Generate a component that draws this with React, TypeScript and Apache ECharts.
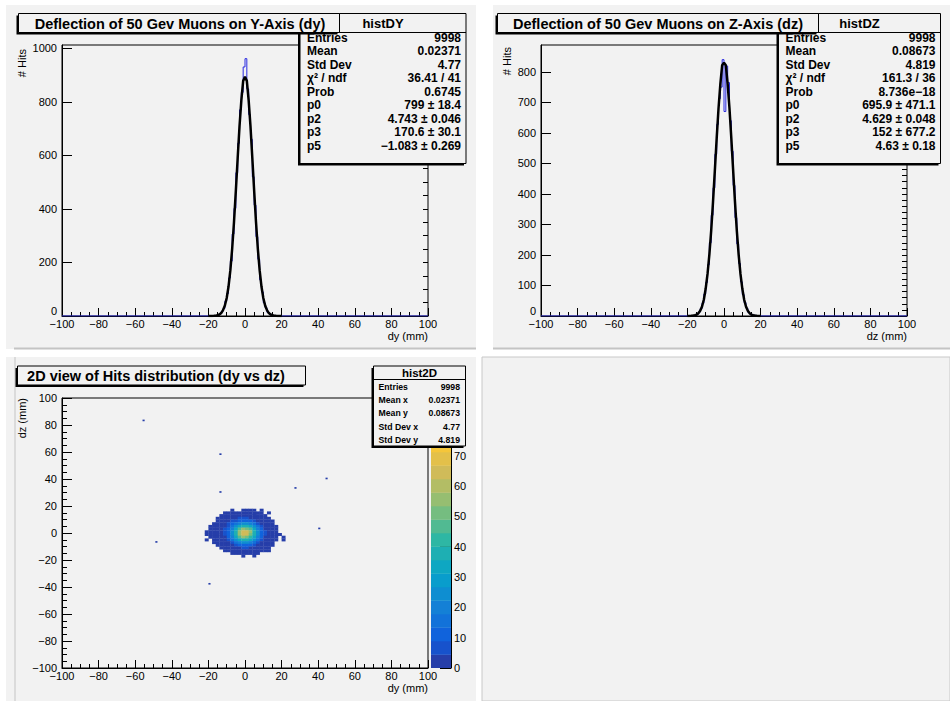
import React, { useEffect, useRef } from "react";
import * as echarts from "echarts";

// ---------------- data ----------------
const xRange = [-100, 100];
const binWidth = 1;

// 1D histograms: counts per 1 mm bin, first bin starts at firstEdge
const dyFirstEdge = -20;
const dyCounts = [
  0, 0, 1, 1, 2, 5, 8, 17, 28, 55, 84, 142, 205, 306, 402, 535, 645, 770, 835, 930,
  961, 848, 752, 660, 520, 414, 296, 212, 135, 90, 49, 31, 14, 9, 3, 2, 1, 0, 1, 0,
];
const dzFirstEdge = -20;
const dzCounts = [
  0, 0, 1, 1, 3, 6, 13, 24, 42, 72, 110, 168, 240, 330, 420, 530, 628, 712, 750, 840,
  670, 819, 765, 640, 540, 428, 322, 236, 172, 112, 70, 44, 26, 12, 7, 3, 2, 1, 0, 0,
];

// fit curves sampled at integer x from fitFirstX
const fitFirstX = -20;
const dyFit = [
  0, 0, 0.2, 0.5, 1.2, 2.7, 5.6, 11, 22, 39, 67, 110, 171, 252, 352, 468, 590, 708, 805, 878,
  893, 878, 805, 708, 590, 468, 352, 252, 171, 110, 67, 39, 22, 11, 5.6, 2.7, 1.2, 0.5, 0.2, 0, 0,
];
const dzFit = [
  0.1, 0.3, 0.6, 1.4, 2.8, 4.5, 9, 17, 31, 54, 90, 138, 201, 280, 374, 477, 582, 680, 760, 822,
  830, 822, 760, 680, 582, 477, 374, 280, 201, 138, 90, 54, 31, 17, 9, 4.5, 2.8, 1.4, 0.6, 0.3, 0.1,
];
const dyYMax = 1012;
const dzYMax = 888;

// 2D histogram (average hits per 1x1 mm bin) on a 2 mm grid, top row first
const h2Cell = 2;
const h2FirstX = -22;
const h2TopRowLow = 18;
const h2Rows = [
  [0, 0, 0, 0, 0, 0, 0, 0, 0, 0, 0, 0, 0, 0, 0, 0, 0, 0, 0, 0, 0, 0],
  [0, 0, 0, 0, 0, 0, 0, 0.3, 0, 0, 0.3, 0.3, 0.3, 0.3, 0, 0.3, 0, 0, 0, 0, 0, 0],
  [0, 0, 0, 0, 0, 0.3, 0.3, 0.5, 0.5, 0.8, 1, 0.8, 0.8, 0.5, 0.3, 0.3, 0, 0.3, 0, 0, 0, 0],
  [0, 0, 0, 0, 0.3, 0.3, 0.5, 0.8, 1.3, 1.6, 2, 1.8, 1.5, 1.1, 0.7, 0.3, 0.3, 0, 0, 0, 0, 0],
  [0, 0, 0, 0.3, 0.3, 0.5, 1, 2, 3.2, 4.5, 5.3, 5.2, 4.4, 3, 1.8, 1, 0.4, 0.3, 0, 0, 0, 0],
  [0, 0, 0, 0.3, 0.4, 1, 2.3, 4.5, 7.5, 10.5, 12.5, 12.6, 10.3, 7.2, 4.3, 2.2, 0.9, 0.3, 0.3, 0, 0, 0],
  [0, 0, 0.3, 0.3, 0.7, 1.8, 4.5, 9, 15, 20, 23.5, 24, 20, 14.5, 8.6, 4.4, 1.8, 0.6, 0.3, 0, 0, 0],
  [0, 0.3, 0.3, 0.4, 1.1, 3.2, 7.5, 15, 24, 32, 38, 38.5, 32, 23.5, 14.5, 7.4, 3, 1, 0.3, 0.3, 0, 0],
  [0, 0.3, 0.3, 0.5, 1.5, 4.5, 10.5, 20, 32, 45, 54, 53, 44.5, 32, 20, 10.4, 4.4, 1.5, 0.5, 0.3, 0, 0],
  [0.3, 0.3, 0.3, 0.6, 1.9, 5.3, 12.6, 24, 38.5, 54, 66, 65, 54, 38, 23.5, 12.5, 5.2, 1.8, 0.5, 0.3, 0, 0],
  [0.3, 0.3, 0.3, 0.6, 1.8, 5.2, 12.5, 23.5, 38, 53.5, 65, 63, 53, 38, 23.5, 12.4, 5.1, 1.8, 0.5, 0.3, 0.3, 0],
  [0, 0.3, 0.3, 0.5, 1.5, 4.4, 10.4, 20, 31.5, 44.5, 53.5, 53, 44, 31.5, 19.8, 10.3, 4.3, 1.4, 0.5, 0.3, 0, 0.3],
  [0.3, 0, 0.3, 0.3, 1.1, 3.1, 7.4, 14.5, 23.5, 31.5, 38, 38, 31.5, 23.5, 14.5, 7.3, 3, 1, 0.3, 0.3, 0, 0.3],
  [0, 0, 0.3, 0.3, 0.6, 1.8, 4.4, 8.8, 14.5, 20, 24, 23.5, 20, 14.2, 8.7, 4.3, 1.8, 0.6, 0.3, 0, 0, 0],
  [0, 0, 0, 0.3, 0.3, 0.9, 2.2, 4.4, 7.4, 10.4, 12.7, 12.5, 10.3, 7.3, 4.3, 2.1, 0.9, 0.3, 0.3, 0, 0, 0],
  [0, 0, 0, 0, 0.3, 0.4, 0.9, 1.8, 3.1, 4.4, 5.3, 5.2, 4.3, 3, 1.8, 0.9, 0.4, 0.3, 0, 0, 0, 0],
  [0, 0, 0, 0, 0, 0.3, 0.3, 0.6, 1.1, 1.5, 1.8, 1.8, 1.5, 1, 0.6, 0.3, 0.3, 0.3, 0, 0, 0, 0],
  [0, 0, 0, 0, 0, 0, 0, 0.3, 0.3, 0.5, 0.5, 0.5, 0.5, 0.3, 0.3, 0, 0, 0, 0, 0, 0, 0],
  [0, 0, 0, 0, 0, 0, 0, 0, 0, 0, 0.3, 0, 0, 0.3, 0, 0, 0, 0, 0, 0, 0, 0],
];
// isolated single-hit bins (lower-left corner of 1x1 bin)
const h2Singles = [
  [-56, 83], [-14, 58], [-14, 30], [27, 33], [44, 40], [-49, -7], [-20, -38], [40, 3],
];
const zMax = 89;
const zLevels = 20;

// stats boxes
const statLabels1D = ["Entries", "Mean", "Std Dev", "\u03c7\u00b2 / ndf", "Prob", "p0", "p2", "p3", "p5"];
const dyStatValues = ["9998", "0.02371", "4.77", "36.41 / 41", "0.6745", "799 \u00b1 18.4", "4.743 \u00b1 0.046", "170.6 \u00b1 30.1", "\u22121.083 \u00b1 0.269"];
const dzStatValues = ["9998", "0.08673", "4.819", "161.3 / 36", "8.736e\u221218", "695.9 \u00b1 471.1", "4.629 \u00b1 0.048", "152 \u00b1 677.2", "4.63 \u00b1 0.18"];
const statLabels2D = ["Entries", "Mean x", "Mean y", "Std Dev x", "Std Dev y"];
const h2StatValues = ["9998", "0.02371", "0.08673", "4.77", "4.819"];

// ---------------- helpers ----------------
const birdR = [0.2082, 0.0592, 0.078, 0.0232, 0.1802, 0.5301, 0.8186, 0.9956, 0.9764];
const birdG = [0.1664, 0.3599, 0.5041, 0.6419, 0.7178, 0.7492, 0.7328, 0.7862, 0.9832];
const birdB = [0.5293, 0.8684, 0.8385, 0.7914, 0.6425, 0.4662, 0.3499, 0.1968, 0.0539];
function bird(t: number) {
  const s = Math.max(0, Math.min(1, t)) * 8;
  const i = Math.min(7, Math.floor(s));
  const f = s - i;
  const c = (a: number[]) => Math.round((a[i] + (a[i + 1] - a[i]) * f) * 255);
  return `rgb(${c(birdR)},${c(birdG)},${c(birdB)})`;
}
function levelOf(v: number) {
  return Math.min(zLevels - 1, Math.floor(v / (zMax / zLevels)));
}
function levelColor(lvl: number) {
  return bird((lvl + 0.99) / zLevels);
}

function histPoints(first: number, counts: number[]) {
  const pts: number[][] = [[xRange[0], 0]];
  counts.forEach((c, i) => pts.push([first + i * binWidth, c]));
  pts.push([first + counts.length * binWidth, 0]);
  pts.push([xRange[1], 0]);
  return pts;
}
function fitPoints(vals: number[]) {
  return vals.map((v, i) => [fitFirstX + i, v]);
}
function h2Data() {
  const out: number[][] = [];
  h2Rows.forEach((row, r) => {
    row.forEach((v, c) => {
      if (v > 0) out.push([h2FirstX + c * h2Cell, h2TopRowLow - r * h2Cell, v, h2Cell]);
    });
  });
  h2Singles.forEach(([x, y]) => out.push([x, y, 1, 1]));
  return out;
}

const FONT = "'Liberation Sans', Arial, Helvetica, sans-serif";
const PAD = "#f2f2f2";
const fmt = (v: number) => String(v).replace("-", "\u2212");

function xAxisDef(gridIndex: number) {
  return {
    type: "value",
    gridIndex,
    min: xRange[0],
    max: xRange[1],
    interval: 20,
    axisLine: { show: true, onZero: false, lineStyle: { color: "#000", width: 1 } },
    axisTick: { show: true, inside: true, length: 8, lineStyle: { color: "#000" } },
    minorTick: { show: true, splitNumber: 4, length: 4, lineStyle: { color: "#000" } },
    axisLabel: { fontFamily: FONT, fontSize: 11, color: "#000", margin: 2, formatter: fmt, showMinLabel: true, showMaxLabel: true },
    splitLine: { show: false },
    minorSplitLine: { show: false },
  };
}
function yMajor(gridIndex: number, min: number, max: number, interval: number, minorSplit = 0) {
  return {
    type: "value",
    gridIndex,
    min,
    max,
    interval,
    axisLine: { show: true, onZero: false, lineStyle: { color: "#000", width: 1 } },
    axisTick: { show: true, inside: true, length: 10, lineStyle: { color: "#000" } },
    minorTick: { show: minorSplit > 0, splitNumber: minorSplit || 5, length: 5, lineStyle: { color: "#000" } },
    axisLabel: {
      fontFamily: FONT, fontSize: 11, color: "#000", margin: 5, formatter: fmt,
      showMaxLabel: minorSplit > 0, showMinLabel: minorSplit > 0,
    },
    splitLine: { show: false },
    minorSplitLine: { show: false },
  };
}
function yMinor(gridIndex: number, max: number, interval: number) {
  return {
    type: "value",
    gridIndex,
    min: 0,
    max,
    interval,
    axisLine: { show: false, onZero: false },
    axisTick: { show: true, inside: true, length: 5, lineStyle: { color: "#000" } },
    axisLabel: { show: false },
    splitLine: { show: false },
  };
}

function txt(x: number, y: number, text: string, font: string, align = "left", z = 60, rotation = 0) {
  return {
    type: "text",
    x,
    y,
    z,
    rotation,
    silent: true,
    style: { text, font, fill: "#000", textAlign: align, textVerticalAlign: "middle", align, verticalAlign: "middle" },
  };
}
function shadowBox(x: number, y: number, w: number, h: number, z: number) {
  return [
    { type: "rect", z, silent: true, shape: { x: x - 2, y: y + 2, width: w, height: h }, style: { fill: "#000" } },
    { type: "rect", z: z + 1, silent: true, shape: { x, y, width: w, height: h }, style: { fill: PAD, stroke: "#000", lineWidth: 1 } },
  ];
}
function statsBox1D(x: number, w: number, title: string, values: string[]) {
  const els: any[] = [...shadowBox(x, 13.5, w, 150, 50)];
  els.push({ type: "line", z: 52, silent: true, shape: { x1: x, y1: 32.5, x2: x + w, y2: 32.5 }, style: { stroke: "#000", lineWidth: 1 } });
  els.push(txt(x + w / 2, 23, title, `bold 13px ${FONT}`, "center", 53));
  statLabels1D.forEach((l, i) => {
    const y = 37.5 + i * 13.5;
    els.push(txt(x + 7, y, l, `bold 12px ${FONT}`, "left", 53));
    els.push(txt(x + w - 5, y, values[i], `bold 12px ${FONT}`, "right", 53));
  });
  return els;
}
function titleBox(x: number, w: number, y: number, text: string, cx: number) {
  return [...shadowBox(x, y, w, 19, 60), txt(cx, y + 10, text, `bold 14.5px ${FONT}`, "center", 63)];
}

export default function App() {
  const ref = useRef<HTMLDivElement>(null);
  useEffect(() => {
    document.body.style.margin = "0";
    if (!ref.current) return;
    const chart = echarts.init(ref.current, undefined, { renderer: "svg" });

    const graphics: any[] = [
      // pads
      { type: "rect", z: -5, silent: true, shape: { x: 6, y: 5, width: 470, height: 344 }, style: { fill: PAD } },
      { type: "rect", z: -5, silent: true, shape: { x: 493, y: 5, width: 457, height: 344 }, style: { fill: PAD } },
      { type: "rect", z: -5, silent: true, shape: { x: 6, y: 357, width: 470, height: 344 }, style: { fill: PAD } },
      { type: "rect", z: -5, silent: true, shape: { x: 482, y: 357, width: 468, height: 344 }, style: { fill: PAD, stroke: "#c8c8c8", lineWidth: 1 } },
      { type: "line", z: -4, silent: true, shape: { x1: 14, y1: 348.5, x2: 476, y2: 348.5 }, style: { stroke: "#c4c4c4", lineWidth: 2 } },
      { type: "line", z: -4, silent: true, shape: { x1: 493, y1: 348.5, x2: 950, y2: 348.5 }, style: { stroke: "#c4c4c4", lineWidth: 2 } },
      { type: "line", z: -4, silent: true, shape: { x1: 15, y1: 357, x2: 15, y2: 701 }, style: { stroke: "#c4c4c4", lineWidth: 1 } },
      // zero labels of the 1D y axes (raised, as drawn by the reference)
      txt(57, 311, "0", `11px ${FONT}`, "right", 20),
      txt(536, 311, "0", `11px ${FONT}`, "right", 20),
      // stats boxes
      ...statsBox1D(300, 166, "histDY", dyStatValues),
      ...statsBox1D(778.5, 162, "histDZ", dzStatValues),
      // 2D stats box
      ...shadowBox(373.5, 366, 92, 80, 50),
      { type: "line", z: 52, silent: true, shape: { x1: 373.5, y1: 379.5, x2: 465.5, y2: 379.5 }, style: { stroke: "#000", lineWidth: 1 } },
      txt(419.5, 373, "hist2D", `bold 11.5px ${FONT}`, "center", 53),
      ...statLabels2D.flatMap((l, i) => [
        txt(378.5, 386.7 + i * 13.3, l, `bold 8.7px ${FONT}`, "left", 53),
        txt(460, 386.7 + i * 13.3, h2StatValues[i], `bold 8.7px ${FONT}`, "right", 53),
      ]),
      // title boxes
      ...titleBox(18.5, 321, 13.5, "Deflection of 50 Gev Muons on Y-Axis (dy)", 180),
      ...titleBox(497.5, 321, 13.5, "Deflection of 50 Gev Muons on Z-Axis (dz)", 658),
      ...titleBox(17.5, 288, 366, "2D view of Hits distribution (dy vs dz)", 156),
      // axis titles
      txt(21.5, 49, "# Hits", `11px ${FONT}`, "right", 20, Math.PI / 2),
      txt(506.5, 47, "# Hits", `11px ${FONT}`, "right", 20, Math.PI / 2),
      txt(428, 336, "dy (mm)", `11px ${FONT}`, "right", 20),
      txt(907, 336, "dz (mm)", `11px ${FONT}`, "right", 20),
      txt(21.5, 398, "dz (mm)", `11px ${FONT}`, "right", 20, Math.PI / 2),
      txt(428, 688, "dy (mm)", `11px ${FONT}`, "right", 20),
    ];

    const option: any = {
      animation: false,
      backgroundColor: "#ffffff",
      textStyle: { fontFamily: FONT },
      grid: [
        { left: 62, top: 45, width: 366, height: 271, show: true, borderColor: "#000", borderWidth: 1, backgroundColor: "transparent", outerBoundsMode: "none" },
        { left: 541, top: 45, width: 366, height: 271, show: true, borderColor: "#000", borderWidth: 1, backgroundColor: "transparent", outerBoundsMode: "none" },
        { left: 62, top: 398, width: 366, height: 270, show: true, borderColor: "#000", borderWidth: 1, backgroundColor: "transparent", outerBoundsMode: "none" },
        { left: 431, top: 398, width: 20, height: 270, show: false, outerBoundsMode: "none" },
      ],
      xAxis: [
        xAxisDef(0),
        xAxisDef(1),
        xAxisDef(2),
        { type: "value", gridIndex: 3, min: 0, max: 1, show: false },
      ],
      yAxis: [
        yMajor(0, 0, dyYMax, 200),
        yMinor(0, dyYMax, 50),
        yMajor(1, 0, dzYMax, 100),
        yMinor(1, dzYMax, 20),
        yMajor(2, -100, 100, 20, 4),
        {
          type: "value",
          gridIndex: 3,
          position: "right",
          min: 0,
          max: zMax,
          interval: 10,
          axisLine: { show: true, onZero: false, lineStyle: { color: "#000", width: 1 } },
          axisTick: { show: true, inside: true, length: 11, lineStyle: { color: "#000" } },
          axisLabel: {
            fontFamily: FONT, fontSize: 11, color: "#000", margin: 3, showMaxLabel: false,
            formatter: (v: number) => (v >= 80 ? "" : String(v)),
          },
          splitLine: { show: false },
        },
      ],
      series: [
        {
          type: "line", xAxisIndex: 0, yAxisIndex: 0, data: histPoints(dyFirstEdge, dyCounts), step: "end",
          showSymbol: false, symbol: "none", silent: true, clip: true, lineStyle: { color: "#2a2ae0", width: 1 },
        },
        {
          type: "line", xAxisIndex: 0, yAxisIndex: 0, data: fitPoints(dyFit),
          showSymbol: false, symbol: "none", silent: true, clip: true, lineStyle: { color: "#000", width: 2.5 },
        },
        {
          type: "line", xAxisIndex: 1, yAxisIndex: 2, data: histPoints(dzFirstEdge, dzCounts), step: "end",
          showSymbol: false, symbol: "none", silent: true, clip: true, lineStyle: { color: "#2a2ae0", width: 1 },
        },
        {
          type: "line", xAxisIndex: 1, yAxisIndex: 2, data: fitPoints(dzFit),
          showSymbol: false, symbol: "none", silent: true, clip: true, lineStyle: { color: "#000", width: 2.5 },
        },
        {
          type: "custom", xAxisIndex: 2, yAxisIndex: 4, data: h2Data(), encode: { x: 0, y: 1 }, silent: true, clip: true,
          renderItem: (_p: any, api: any) => {
            const x = api.value(0), y = api.value(1), v = api.value(2), s = api.value(3);
            const a = api.coord([x, y + s]);
            const b = api.coord([x + s, y]);
            return {
              type: "rect",
              shape: { x: a[0], y: a[1], width: b[0] - a[0] + 0.3, height: b[1] - a[1] + 0.3 },
              style: { fill: levelColor(levelOf(v)) },
            };
          },
        },
        {
          type: "custom", xAxisIndex: 3, yAxisIndex: 5, silent: true, clip: true,
          data: Array.from({ length: zLevels }, (_, i) => [0, i]),
          encode: { x: 0, y: 1 },
          renderItem: (_p: any, api: any) => {
            const i = api.value(1);
            const step = zMax / zLevels;
            const a = api.coord([0, (i + 1) * step]);
            const b = api.coord([1, i * step]);
            return {
              type: "rect",
              shape: { x: a[0], y: a[1], width: b[0] - a[0], height: b[1] - a[1] + 0.3 },
              style: { fill: levelColor(i) },
            };
          },
        },
      ],
      graphic: { elements: graphics },
    };
    chart.setOption(option);
    return () => chart.dispose();
  }, []);
  return <div ref={ref} style={{ position: "absolute", left: 0, top: 0, width: 950, height: 701 }} />;
}
